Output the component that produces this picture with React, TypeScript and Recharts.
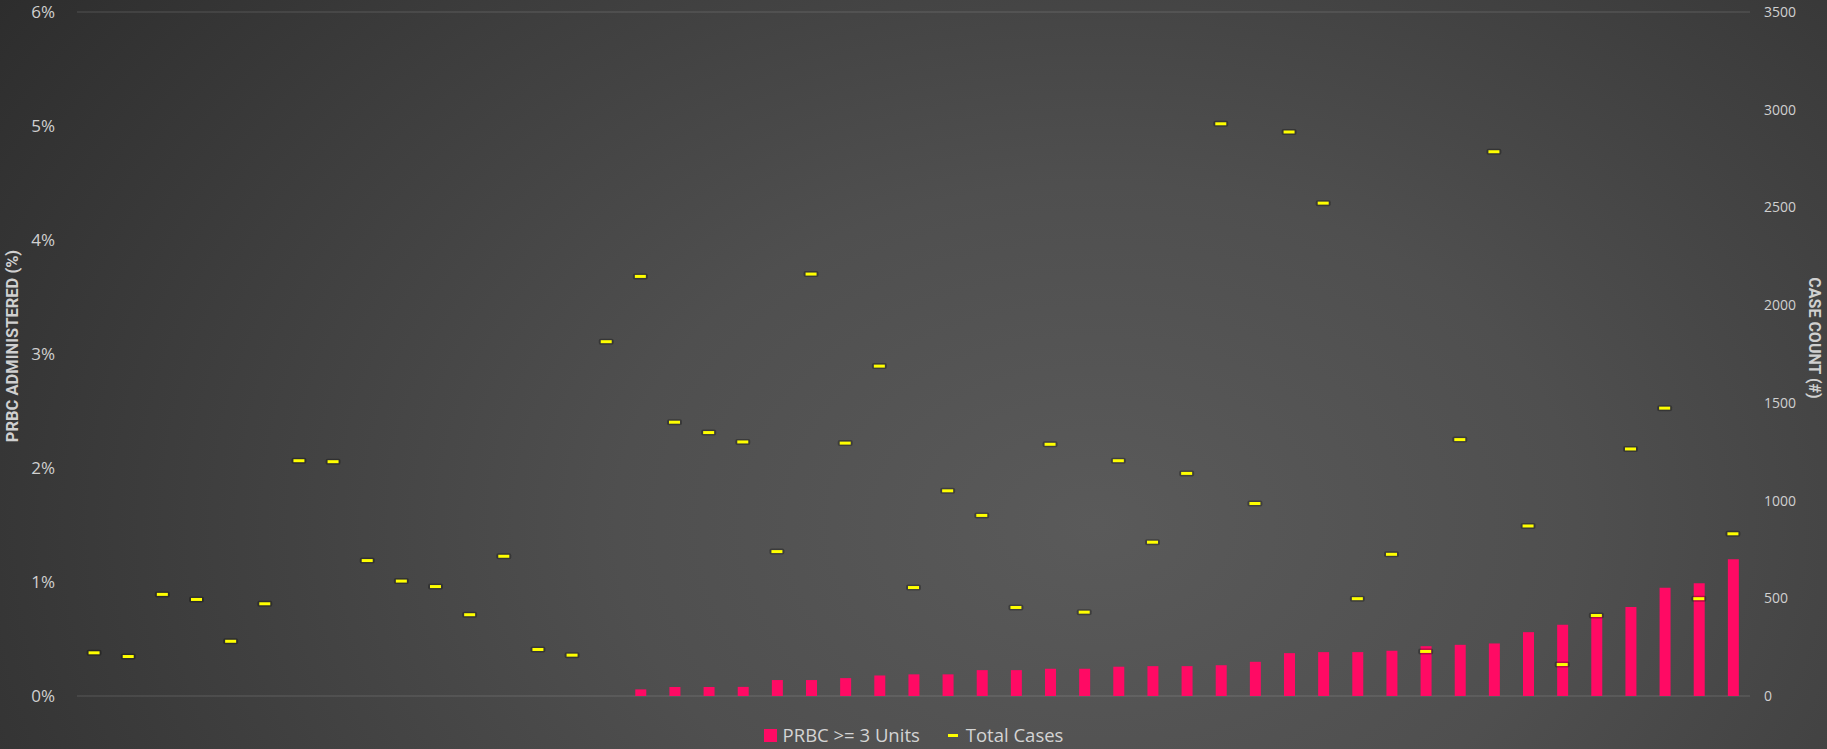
import React from 'react';
import { ComposedChart, Bar, Line, XAxis, YAxis, CartesianGrid, Legend } from 'recharts';

const categories = [
  'C01','C02','C03','C04','C05','C06','C07','C08','C09','C10',
  'C11','C12','C13','C14','C15','C16','C17','C18','C19','C20',
  'C21','C22','C23','C24','C25','C26','C27','C28','C29','C30',
  'C31','C32','C33','C34','C35','C36','C37','C38','C39','C40',
  'C41','C42','C43','C44','C45','C46','C47','C48','C49',
];

// PRBC >= 3 Units (%)
const prbcPct = [
  0, 0, 0, 0, 0, 0, 0, 0, 0, 0,
  0, 0, 0, 0, 0, 0, 0.058, 0.079, 0.079, 0.08,
  0.14, 0.14, 0.157, 0.18, 0.19, 0.19, 0.227, 0.227, 0.239, 0.239,
  0.257, 0.262, 0.262, 0.27, 0.3, 0.376, 0.385, 0.385, 0.397, 0.437,
  0.449, 0.461, 0.56, 0.625, 0.71, 0.78, 0.95, 0.99, 1.2,
];

// Total Cases (#)
const totalCases = [
  221, 202, 520, 494, 280, 472, 1204, 1199, 693, 588,
  560, 416, 715, 238, 209, 1813, 2147, 1401, 1348, 1300,
  739, 2159, 1294, 1688, 555, 1050, 924, 453, 1288, 429,
  1204, 787, 1139, 2928, 985, 2886, 2522, 498, 725, 228,
  1312, 2785, 870, 161, 412, 1264, 1473, 498, 830,
];

const leftTicks = [0, 1, 2, 3, 4, 5, 6];
const rightTicks = [0, 500, 1000, 1500, 2000, 2500, 3000, 3500];

const seriesNames = { prbc: 'PRBC >= 3 Units', cases: 'Total Cases' };
const axisTitles = { left: 'PRBC ADMINISTERED (%)', right: 'CASE COUNT (#)' };

const data = categories.map((c, i) => ({ name: c, prbc: prbcPct[i], cases: totalCases[i] }));

const PINK = '#ff0a64';
const YELLOW = '#ffff00';
const FONT = '"Open Sans", "Noto Sans", sans-serif';

const CaseDot = (props: any) => {
  const { cx, cy, index } = props;
  if (cx == null || cy == null) return <g key={`d${index}`} />;
  return (
    <g key={`d${index}`}>
      <rect x={cx - 7.5} y={cy - 3} width={15} height={6} fill="rgba(0,0,0,0.28)" rx={2} />
      <rect x={cx - 5.5} y={cy - 1.5} width={11} height={3} fill={YELLOW} />
    </g>
  );
};

const LeftTitle = (props: any) => {
  const vb = props.viewBox || {};
  const cy = vb.y + vb.height / 2 - 8;
  const cx = 12;
  return (
    <text x={cx} y={cy} transform={`rotate(-90 ${cx} ${cy})`} textAnchor="middle" dominantBaseline="central"
      fill="#d0d0d0" fontFamily='Roboto, "Open Sans", sans-serif' fontWeight={700} fontSize={16.5}>
      {axisTitles.left}
    </text>
  );
};

const RightTitle = (props: any) => {
  const vb = props.viewBox || {};
  const cy = vb.y + vb.height / 2 - 16;
  const cx = 1814;
  return (
    <text x={cx} y={cy} transform={`rotate(90 ${cx} ${cy})`} textAnchor="middle" dominantBaseline="central"
      fill="#d0d0d0" fontFamily='Roboto, "Open Sans", sans-serif' fontWeight={700} fontSize={16}>
      {axisTitles.right}
    </text>
  );
};

const renderLegend = () => (
  <div style={{ display: 'flex', justifyContent: 'center', alignItems: 'center', height: 24, fontFamily: FONT, fontSize: 18.5, color: '#d4d4d4', lineHeight: '22px' }}>
    <span style={{ display: 'flex', alignItems: 'center', marginRight: 28 }}>
      <span style={{ display: 'inline-block', width: 13, height: 13, background: PINK, marginRight: 6 }} />
      {seriesNames.prbc}
    </span>
    <span style={{ display: 'flex', alignItems: 'center' }}>
      <span style={{ display: 'inline-block', width: 10, height: 3, background: YELLOW, marginRight: 8 }} />
      {seriesNames.cases}
    </span>
  </div>
);

export default function App() {
  return (
    <div
      style={{
        position: 'absolute',
        left: 0,
        top: 0,
        width: 1827,
        height: 749,
        background: 'radial-gradient(ellipse 75% 130% at 60% 70%, #5a5a5a 0%, #4f4f4f 35%, #3d3d3d 68%, #2b2b2b 100%)',
        overflow: 'hidden',
      }}
    >
      <ComposedChart width={1827} height={749} data={data} margin={{ top: 12, right: 0, bottom: 53, left: 0 }} barSize={11}>
        <CartesianGrid vertical={false} stroke="rgba(255,255,255,0.16)" strokeWidth={1} />
        <XAxis dataKey="name" hide />
        <YAxis
          yAxisId="left"
          orientation="left"
          width={77}
          domain={[0, 6]}
          ticks={leftTicks}
          tickFormatter={(v: number) => `${v}%`}
          axisLine={false}
          tickLine={false}
          tickSize={0}
          tickMargin={22}
          tick={{ fill: '#d0d0d0', fontSize: 17, fontFamily: FONT }}
          label={<LeftTitle />}
        />
        <YAxis
          yAxisId="right"
          orientation="right"
          width={77}
          domain={[0, 3500]}
          ticks={rightTicks}
          axisLine={false}
          tickLine={false}
          tickSize={0}
          tickMargin={14}
          tick={{ fill: '#d0d0d0', fontSize: 14, fontFamily: FONT }}
          label={<RightTitle />}
        />
        <Legend
          verticalAlign="middle"
          content={renderLegend}
          wrapperStyle={{ top: 723, left: 77, width: 1673, height: 24 }}
        />
        <Bar yAxisId="left" dataKey="prbc" name={seriesNames.prbc} fill={PINK} isAnimationActive={false} />
        <Line
          yAxisId="right"
          dataKey="cases"
          name={seriesNames.cases}
          stroke="none"
          strokeWidth={0}
          dot={CaseDot}
          activeDot={false}
          isAnimationActive={false}
        />
      </ComposedChart>
    </div>
  );
}
